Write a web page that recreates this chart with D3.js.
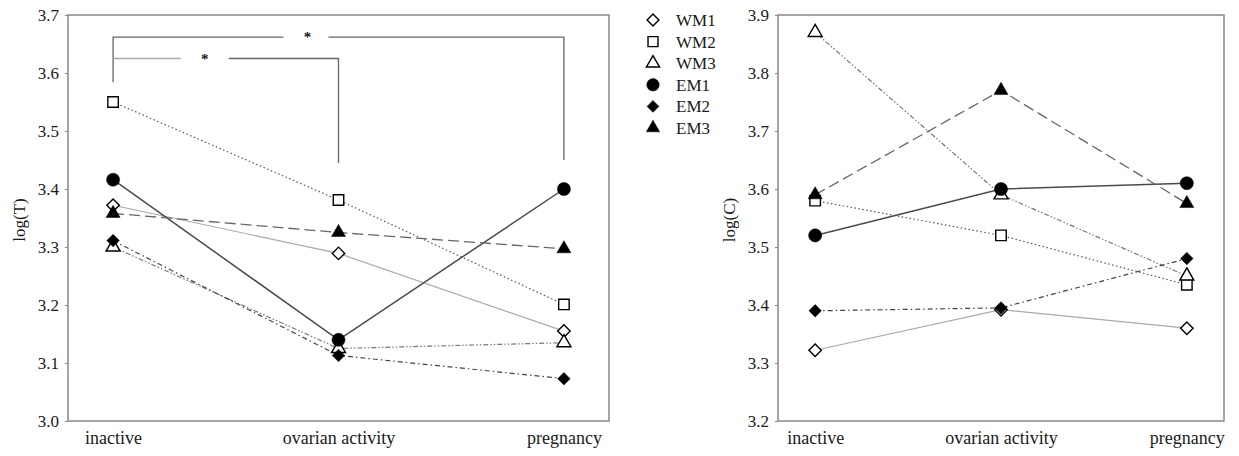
<!DOCTYPE html>
<html>
<head>
<meta charset="utf-8">
<script src="https://cdn.jsdelivr.net/npm/d3@7"></script>
<style>
  body { margin: 0; background: #fff; }
  svg text { font-family: "Liberation Serif", "DejaVu Serif", serif; fill: #1a1a1a; }
</style>
</head>
<body>
<svg id="chart" width="1239" height="456"></svg>
<script>
'use strict';

// categories on the x axis
const categories = ['inactive', 'ovarian activity', 'pregnancy'];
const seriesNames = ['WM1', 'WM2', 'WM3', 'EM1', 'EM2', 'EM3'];

// log(T) per series
const logT_WM1 = [3.372, 3.289, 3.155];
const logT_WM2 = [3.550, 3.381, 3.201];
const logT_WM3 = [3.300, 3.125, 3.135];
const logT_EM1 = [3.416, 3.140, 3.400];
const logT_EM2 = [3.311, 3.113, 3.073];
const logT_EM3 = [3.358, 3.325, 3.297];

// log(C) per series
const logC_WM1 = [3.322, 3.392, 3.360];
const logC_WM2 = [3.580, 3.520, 3.435];
const logC_WM3 = [3.870, 3.590, 3.450];
const logC_EM1 = [3.520, 3.600, 3.610];
const logC_EM2 = [3.390, 3.395, 3.480];
const logC_EM3 = [3.590, 3.770, 3.575];

const ticksT = [3.0, 3.1, 3.2, 3.3, 3.4, 3.5, 3.6, 3.7];
const ticksC = [3.2, 3.3, 3.4, 3.5, 3.6, 3.7, 3.8, 3.9];

// significance brackets: [from, to, left leg bottom, bar level, right leg bottom]
const bracketOuter = ['inactive', 'pregnancy', 3.584, 3.662, 3.450];
const bracketInner = ['inactive', 'ovarian activity', null, 3.625, 3.445];

const styles = {
  WM1: {shape: 'diamond', fill: false, stroke: '#aaa', width: 1.2, dash: null},
  WM2: {shape: 'square', fill: false, stroke: '#555', width: 1.2, dash: '1.5,2.5'},
  WM3: {shape: 'triangle', fill: false, stroke: '#777', width: 1.2, dash: '5,2,1.5,2,1.5,2'},
  EM1: {shape: 'circle', fill: true, stroke: '#4a4a4a', width: 1.5, dash: null},
  EM2: {shape: 'diamond', fill: true, stroke: '#444', width: 1.2, dash: '5,3,1.5,3'},
  EM3: {shape: 'triangle', fill: true, stroke: '#666', width: 1.3, dash: '11,5'}
};
const symbolTypes = {diamond: d3.symbolSquare, square: d3.symbolSquare, triangle: d3.symbolTriangle, circle: d3.symbolCircle};
const symbolSize = {diamond: 78, square: 110, triangle: 85, circle: 135};

const svg = d3.select('#chart');

function marker(sel, s, scale) {
  sel.append('path')
    .attr('d', d3.symbol().type(symbolTypes[s.shape]).size(symbolSize[s.shape] * scale))
    .attr('transform', s.shape === 'diamond' ? 'rotate(45)' : null)
    .attr('fill', s.fill ? '#000' : '#fff')
    .attr('stroke', '#000')
    .attr('stroke-width', s.fill ? 0.5 : 1.4);
}

function drawPanel(opts) {
  const x = d3.scalePoint().domain(categories).range([opts.left, opts.right]).padding(0.2);
  const y = d3.scaleLinear().domain(opts.domain).range([opts.bottom, opts.top]);
  const g = svg.append('g');

  // frame
  g.append('rect')
    .attr('x', opts.left).attr('y', opts.top)
    .attr('width', opts.right - opts.left).attr('height', opts.bottom - opts.top)
    .attr('fill', 'none').attr('stroke', '#888').attr('stroke-width', 1.5);

  const yAxis = g.append('g')
    .attr('transform', 'translate(' + opts.left + ',0)')
    .call(d3.axisLeft(y).tickValues(opts.ticks).tickFormat(d3.format('.1f')).tickSize(3).tickPadding(6))
    .attr('font-family', '"Liberation Serif", serif')
    .attr('font-size', 17);
  yAxis.select('.domain').remove();
  yAxis.selectAll('line').attr('stroke', '#888');
  yAxis.selectAll('text').attr('fill', '#1a1a1a');

  const xAxis = g.append('g')
    .attr('transform', 'translate(0,' + opts.bottom + ')')
    .call(d3.axisBottom(x).tickSize(0).tickPadding(10))
    .attr('font-family', '"Liberation Serif", serif')
    .attr('font-size', 18);
  xAxis.select('.domain').remove();
  xAxis.selectAll('text').attr('fill', '#1a1a1a');

  g.append('text')
    .attr('transform', 'translate(' + opts.labelX + ',' + ((opts.top + opts.bottom) / 2 + 2) + ') rotate(-90)')
    .attr('text-anchor', 'middle')
    .attr('font-size', 17)
    .text(opts.label);

  if (opts.brackets) opts.brackets(g, x, y);

  const line = d3.line().x((d, i) => x(categories[i])).y(d => y(d));

  seriesNames.forEach(name => {
    const s = styles[name];
    g.append('path')
      .datum(opts.data[name])
      .attr('d', line)
      .attr('fill', 'none')
      .attr('stroke', s.stroke)
      .attr('stroke-width', s.width)
      .attr('stroke-dasharray', s.dash);
  });

  seriesNames.forEach(name => {
    const s = styles[name];
    g.selectAll(null)
      .data(opts.data[name])
      .enter()
      .append('g')
      .attr('transform', (d, i) => 'translate(' + x(categories[i]) + ',' + y(d) + ')')
      .each(function() { marker(d3.select(this), s, 1); });
  });
}

function brackets(g, x, y) {
  const o = bracketOuter;
  const x0 = x(o[0]), x1 = x(o[1]);
  const yo = y(o[3]);
  const starO = (x0 + x1) / 2 - 31;
  g.append('path')
    .attr('d', 'M' + x0 + ',' + y(o[2]) + 'V' + yo + 'H' + (starO - 24))
    .attr('fill', 'none').attr('stroke', '#666').attr('stroke-width', 1.3);
  g.append('path')
    .attr('d', 'M' + (starO + 21) + ',' + yo + 'H' + x1 + 'V' + y(o[4]))
    .attr('fill', 'none').attr('stroke', '#666').attr('stroke-width', 1.3);
  g.append('text').attr('x', starO).attr('y', yo + 5).attr('text-anchor', 'middle')
    .attr('font-size', 15).attr('font-weight', 'bold').text('*');

  const n = bracketInner;
  const xa = x(n[0]), xb = x(n[1]);
  const yn = y(n[3]);
  const starN = (xa + xb) / 2 - 21;
  g.append('path')
    .attr('d', 'M' + xa + ',' + yn + 'H' + (starN - 24))
    .attr('fill', 'none').attr('stroke', '#aaa').attr('stroke-width', 1.3);
  g.append('path')
    .attr('d', 'M' + (starN + 24) + ',' + yn + 'H' + xb + 'V' + y(n[4]))
    .attr('fill', 'none').attr('stroke', '#666').attr('stroke-width', 1.3);
  g.append('text').attr('x', starN).attr('y', yn + 5).attr('text-anchor', 'middle')
    .attr('font-size', 15).attr('font-weight', 'bold').text('*');
}

drawPanel({
  left: 68, right: 609, top: 15, bottom: 421,
  domain: [3.0, 3.7], ticks: ticksT, label: 'log(T)', labelX: 25,
  data: {WM1: logT_WM1, WM2: logT_WM2, WM3: logT_WM3, EM1: logT_EM1, EM2: logT_EM2, EM3: logT_EM3},
  brackets: brackets
});

drawPanel({
  left: 778, right: 1224, top: 15, bottom: 421,
  domain: [3.2, 3.9], ticks: ticksC, label: 'log(C)', labelX: 735,
  data: {WM1: logC_WM1, WM2: logC_WM2, WM3: logC_WM3, EM1: logC_EM1, EM2: logC_EM2, EM3: logC_EM3}
});

// legend
const legend = svg.append('g').attr('transform', 'translate(653,20)');
seriesNames.forEach((name, i) => {
  const row = legend.append('g').attr('transform', 'translate(0,' + (i * 21.6) + ')');
  marker(row, styles[name], 0.9);
  row.append('text')
    .attr('x', 23).attr('y', 6)
    .attr('font-size', 17)
    .text(name);
});
</script>
</body>
</html>
